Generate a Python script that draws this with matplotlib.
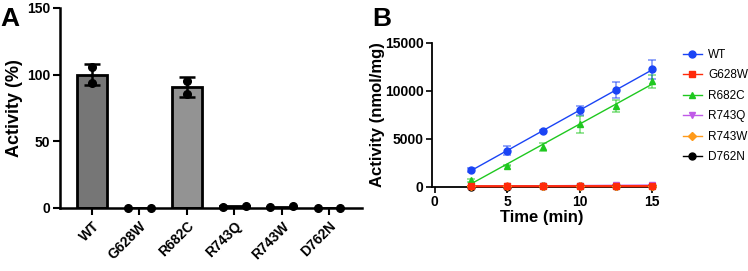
import matplotlib
matplotlib.use("Agg")
import matplotlib.pyplot as plt
from matplotlib.lines import Line2D
import numpy as np

plt.rcParams.update({
    "font.family": ["Liberation Sans", "DejaVu Sans"],
    "font.weight": "bold",
    "axes.labelweight": "bold",
})

# Panel A: relative activity
mutants = ["WT", "G628W", "R682C", "R743Q", "R743W", "D762N"]
activity_mean = [100, 0, 90.5, 1.2, 1.0, 0.3]
activity_err = [8, 0, 7.5, 0, 0, 0]
rep1 = [106, 0, 95.5, 1.0, 1.0, 0.3]
rep2 = [94, 0, 85.5, 1.5, 1.2, 0.3]
rep_spread = [0, 1, 0, 1, 1, 1]  # whether replicate dots are spread sideways
bar_colors = ["#767676", "#767676", "#939393", "#939393", "#939393", "#939393"]

# Panel B: time course
time_min = [2.5, 5, 7.5, 10, 12.5, 15]
series_names = ["WT", "G628W", "R682C", "R743Q", "R743W", "D762N"]
series_vals = {
    "WT":    [1750, 3750, 5780, 7980, 10050, 12220],
    "G628W": [50, 50, 50, 50, 60, 60],
    "R682C": [650, 2200, 4170, 6500, 8420, 10980],
    "R743Q": [60, 80, 90, 110, 160, 170],
    "R743W": [40, 50, 50, 60, 70, 70],
    "D762N": [20, 20, 30, 30, 30, 30],
}
series_err = {
    "WT":    [220, 450, 100, 480, 850, 980],
    "G628W": [0, 0, 0, 0, 0, 0],
    "R682C": [120, 80, 400, 900, 620, 660],
    "R743Q": [0, 0, 0, 0, 0, 0],
    "R743W": [0, 0, 0, 0, 0, 0],
    "D762N": [0, 0, 0, 0, 0, 0],
}
series_colors = {"WT": "#1a44f5", "G628W": "#ff2a0a", "R682C": "#1fc81f",
                 "R743Q": "#c05ae8", "R743W": "#ff9a1a", "D762N": "#000000"}
series_markers = {"WT": "o", "G628W": "s", "R682C": "^", "R743Q": "v",
                  "R743W": "D", "D762N": "o"}
draw_order = ["D762N", "R743W", "R743Q", "R682C", "WT", "G628W"]

fig = plt.figure(figsize=(7.48, 2.71), dpi=100)

# ---- Panel A ----
axA = fig.add_axes([0.0802, 0.2325, 0.4035, 0.738])
x = np.arange(len(mutants))
axA.bar(x, activity_mean, width=0.62, color=bar_colors, edgecolor="black",
        linewidth=2, zorder=2)
for i in range(len(mutants)):
    if activity_err[i] > 0:
        axA.errorbar(x[i], activity_mean[i], yerr=activity_err[i], fmt="none",
                     ecolor="black", elinewidth=1.8, capsize=6, capthick=1.8, zorder=3)
    dx = 0.24 * rep_spread[i]
    axA.plot([x[i] - dx, x[i] + dx], [rep1[i], rep2[i]], "o", color="black",
             markersize=5.5, clip_on=False, zorder=4)
axA.set_xlim(-0.674, 5.69)
axA.set_ylim(0, 150)
axA.set_yticks([0, 50, 100, 150])
axA.set_xticks(x)
axA.set_xticklabels(mutants, rotation=45, ha="right", rotation_mode="anchor")
axA.set_ylabel("Activity (%)", fontsize=13, labelpad=3)
axA.spines["top"].set_visible(False)
axA.spines["right"].set_visible(False)
for s in ["left", "bottom"]:
    axA.spines[s].set_linewidth(1.8)
axA.tick_params(width=1.5, length=5, labelsize=10)
axA.tick_params(axis="y", pad=2)
axA.tick_params(axis="x", pad=3)
fig.text(0.001, 0.975, "A", fontsize=19, fontweight="bold", va="top")

# ---- Panel B ----
axB = fig.add_axes([0.5775, 0.311, 0.294, 0.531])
t = np.array(time_min)
handles = []
for name in draw_order:
    y = np.array(series_vals[name])
    c = series_colors[name]
    axB.errorbar(t, y, yerr=series_err[name], fmt="none", ecolor=c, alpha=0.55,
                 elinewidth=1.2, capsize=3, capthick=1.2, zorder=3, clip_on=False)
    k, b = np.polyfit(t, y, 1)
    lw = 1.6 if name == "G628W" else 1.0
    axB.plot(t, k * t + b, color=c, linewidth=lw, zorder=4, clip_on=False)
    ms = 5 if series_markers[name] != "D" else 3.8
    axB.plot(t, y, series_markers[name], color=c, markersize=ms, zorder=5,
             clip_on=False)
for name in series_names:
    ms = 5 if series_markers[name] != "D" else 3.8
    handles.append(Line2D([], [], color=series_colors[name], marker=series_markers[name],
                          markersize=ms, linewidth=1.0, label=name))
axB.set_xlim(-0.2, 15)
axB.set_ylim(0, 15000)
axB.set_xticks([0, 5, 10, 15])
axB.set_yticks([0, 5000, 10000, 15000])
axB.set_xlabel("Time (min)", fontsize=12, labelpad=1)
axB.set_ylabel("Activity (nmol/mg)", fontsize=12, labelpad=0)
axB.spines["top"].set_visible(False)
axB.spines["right"].set_visible(False)
for s in ["left", "bottom"]:
    axB.spines[s].set_linewidth(1.3)
axB.tick_params(width=1.2, length=4, labelsize=10, pad=2)
leg = axB.legend(handles=handles, loc="upper left", bbox_to_anchor=(1.12, 0.99),
                 frameon=False, handlelength=1.6, handletextpad=0.55,
                 labelspacing=0.72, borderaxespad=0,
                 prop={"size": 8.5, "weight": "normal"})
fig.text(0.497, 0.975, "B", fontsize=19, fontweight="bold", va="top")

fig.savefig("out.png", dpi=100)
